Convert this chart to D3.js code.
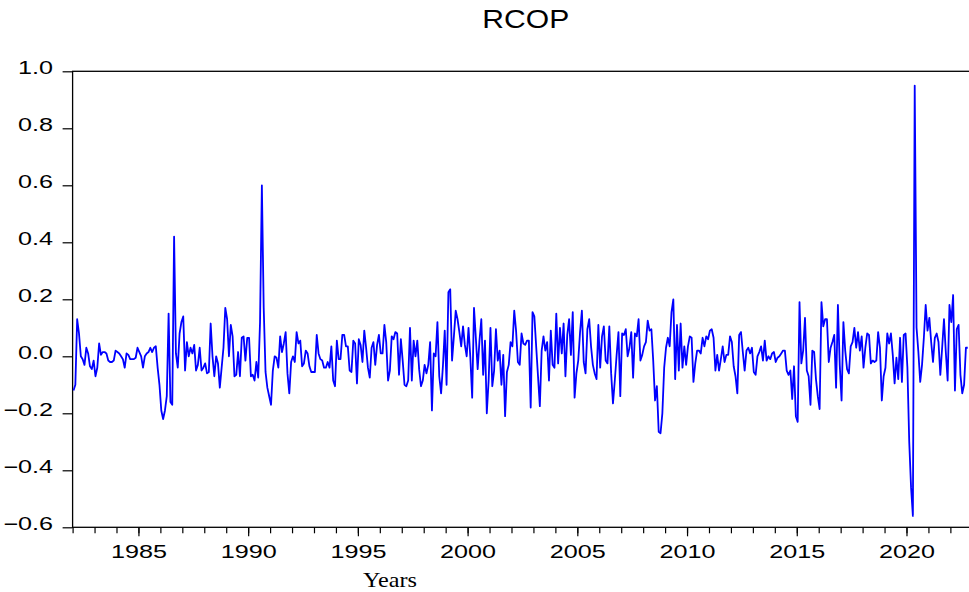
<!DOCTYPE html>
<html>
<head>
<meta charset="utf-8">
<script src="https://cdn.jsdelivr.net/npm/d3@7"></script>
<style>
  body { margin: 0; background: #fff; }
  svg { display: block; }
</style>
</head>
<body>
<svg id="chart"></svg>
<script>
// RCOP, monthly, first observation 1982m1 (one array per decade)
var rcop1980s = [
  -0.12, -0.10, 0.13, 0.08, 0.00, -0.01, -0.03, 0.03, 0.01, -0.035, -0.045, -0.015,
  -0.07, -0.04, 0.045, 0.005, 0.015, 0.015, 0.01, -0.015, -0.02, -0.02, -0.015, 0.02,
  0.015, 0.01, 0.0, -0.01, -0.04, 0.01, 0.005, -0.01, -0.01, -0.01, -0.005, 0.03,
  0.015, 0.0, -0.04, 0.0, 0.01, 0.015, 0.03, 0.015, 0.03, 0.035, -0.04, -0.10,
  -0.19, -0.22, -0.19, -0.14, 0.15, -0.16, -0.17, 0.42, 0.01, -0.04, 0.08, 0.12,
  0.14, -0.05, 0.05, 0.0, 0.03, 0.01, 0.04, -0.05, -0.03, 0.03, -0.05, -0.04,
  -0.025, -0.06, -0.055, 0.115, 0.0, -0.07, 0.0, -0.025, -0.11, -0.04, 0.03, 0.17,
  0.13, 0.0, 0.11, 0.07, -0.07, -0.065, 0.015, -0.07, 0.065, 0.07, -0.015, 0.065
];
var rcop1990s = [
  0.065, -0.07, -0.065, -0.085, -0.02, -0.075, 0.12, 0.60, 0.17, -0.055, -0.11, -0.14,
  -0.17, -0.05, 0.0, -0.005, -0.04, 0.07, 0.015, 0.045, 0.085, -0.06, -0.13, -0.02,
  0.0, -0.02, 0.085, 0.045, 0.055, -0.035, -0.025, 0.02, 0.01, -0.035, -0.055, -0.055,
  -0.055, 0.075, 0.01, -0.01, -0.015, -0.04, -0.04, -0.02, -0.04, 0.035, -0.085, -0.105,
  0.055, -0.01, -0.01, 0.075, 0.075, 0.035, 0.035, -0.05, -0.055, 0.055, 0.045, -0.095,
  0.06, 0.04, -0.02, 0.09, 0.03, -0.04, -0.075, 0.03, 0.05, -0.03, 0.04, 0.075,
  0.01, 0.01, 0.11, 0.05, -0.085, -0.05, 0.07, 0.06, 0.085, 0.08, -0.065, 0.06,
  -0.015, -0.10, -0.105, -0.085, 0.10, -0.085, 0.055, 0.0, 0.055, -0.045, -0.105, -0.085,
  -0.03, -0.06, -0.03, 0.05, -0.19, 0.01, 0.0, 0.12, -0.07, -0.13, -0.035, 0.09,
  -0.10, 0.225, 0.235, -0.015, 0.07, 0.16, 0.13, 0.085, 0.035, 0.105, 0.04, 0.0
];
var rcop2000s = [
  0.10, -0.005, -0.145, 0.17, 0.065, -0.045, 0.055, 0.13, -0.065, 0.055, -0.20, -0.085,
  0.10, -0.105, -0.05, 0.095, -0.015, 0.02, -0.10, 0.005, -0.21, -0.055, -0.03, 0.05,
  0.035, 0.16, 0.09, -0.02, -0.03, 0.08, 0.045, 0.04, 0.055, 0.055, -0.18, 0.155,
  0.14, 0.035, -0.07, -0.175, 0.02, 0.07, 0.02, 0.05, -0.085, 0.09, -0.03, -0.04,
  0.15, -0.025, 0.10, 0.01, 0.115, -0.07, 0.075, 0.13, 0.005, 0.155, -0.145, -0.06,
  -0.015, 0.085, 0.16, -0.02, -0.06, 0.095, 0.13, 0.035, -0.03, -0.06, -0.08, 0.11,
  -0.04, 0.07, 0.105, -0.015, -0.025, 0.105, -0.06, -0.165, -0.085, 0.005, 0.085, -0.14,
  0.08, 0.075, 0.095, 0.0, 0.03, 0.085, -0.075, 0.08, 0.07, 0.13, -0.015, 0.005,
  0.035, 0.05, 0.125, 0.09, 0.095, -0.015, -0.155, -0.105, -0.265, -0.27, -0.20, -0.04,
  0.03, 0.065, 0.035, 0.155, 0.20, -0.08, 0.11, -0.05, 0.115, -0.04, 0.035, -0.03
];
var rcop2010s = [
  0.035, 0.07, 0.065, -0.09, -0.025, 0.02, 0.02, 0.01, 0.065, 0.035, 0.07, 0.06,
  0.09, 0.095, 0.065, -0.05, 0.005, -0.05, -0.01, 0.035, -0.02, 0.005, 0.005, 0.07,
  0.05, -0.035, -0.07, -0.13, 0.075, 0.085, 0.015, -0.05, 0.02, 0.03, 0.01, 0.03,
  -0.055, -0.065, 0.0, 0.015, 0.035, -0.015, 0.055, -0.015, 0.0, -0.01, 0.01, 0.015,
  -0.02, -0.005, 0.0, 0.01, 0.02, 0.02, -0.05, -0.065, -0.05, -0.15, -0.035, -0.21,
  -0.23, 0.19, -0.025, 0.02, 0.135, -0.05, -0.07, -0.17, 0.02, 0.015, -0.08, -0.14,
  -0.185, 0.19, 0.105, 0.13, 0.13, -0.02, 0.03, 0.05, 0.075, -0.11, 0.18, -0.03,
  -0.155, 0.12, 0.02, -0.045, -0.06, 0.035, 0.05, 0.10, 0.03, 0.085, 0.02, 0.07,
  -0.04, 0.03, 0.08, 0.075, -0.025, -0.015, -0.02, -0.015, 0.085, 0.03, -0.155, -0.07,
  -0.04, 0.08, 0.045, 0.08, 0.005, -0.095, -0.005, -0.08, 0.065, -0.09, 0.075, 0.08
];
var rcop2020s = [
  -0.04, -0.30, -0.46, -0.56, 0.95, 0.10, 0.015, -0.09, -0.03, 0.065, 0.18, 0.09,
  0.135, 0.05, -0.02, 0.065, 0.08, 0.05, -0.065, 0.03, 0.13, 0.015, -0.085, 0.18,
  0.12, 0.215, -0.12, 0.095, 0.11, -0.065, -0.13, -0.10, 0.03, 0.03
];

var startYear = 1982;
var yTicks = [-0.6, -0.4, -0.2, 0.0, 0.2, 0.4, 0.6, 0.8, 1.0];
var yearTicks = d3.range(1982, 2024);
var labelYears = [1985, 1990, 1995, 2000, 2005, 2010, 2015, 2020];
var title = "RCOP";
var xTitle = "Years";

var values = rcop1980s.concat(rcop1990s, rcop2000s, rcop2010s, rcop2020s);
// each month sits in the middle of its slot
var data = values.map((v, i) => [startYear + (i + 0.5) / 12, v]);

var width = 969, height = 592;
var margin = {top: 71.3, right: -11, bottom: 64.7, left: 72.6};
var font = "'Liberation Sans', Arial, sans-serif";

var svg = d3.select("#chart")
  .attr("width", width)
  .attr("height", height);

var x = d3.scaleLinear()
  .domain([1982, 2023.35])
  .range([margin.left, width - margin.right]);

var y = d3.scaleLinear()
  .domain([-0.6, 1.0])
  .range([height - margin.bottom, margin.top]);

// minor (yearly) ticks
svg.append("g")
  .attr("transform", "translate(0," + y(-0.6) + ")")
  .call(d3.axisBottom(x).tickValues(yearTicks).tickSize(6).tickFormat(""))
  .call(g => g.select(".domain").remove())
  .call(g => g.selectAll("line").attr("stroke", "#000").attr("stroke-width", 1.2));

// labelled ticks every 5 years
svg.append("g")
  .attr("transform", "translate(0," + y(-0.6) + ")")
  .call(d3.axisBottom(x).tickValues(labelYears).tickSize(9).tickFormat(d3.format("d")))
  .call(g => g.select(".domain").remove())
  .call(g => g.selectAll("line").attr("stroke", "#000").attr("stroke-width", 1.2))
  .call(g => g.selectAll("text")
    .attr("y", null).attr("dy", null)
    .attr("fill", "#000")
    .style("font-family", font)
    .style("font-size", "18px")
    .attr("transform", "translate(0,31) scale(1.4,1)"));

// y axis
svg.append("g")
  .attr("transform", "translate(" + margin.left + ",0)")
  .call(d3.axisLeft(y).tickValues(yTicks).tickSize(10).tickFormat(d3.format(".1f")))
  .call(g => g.select(".domain").remove())
  .call(g => g.selectAll("line").attr("stroke", "#000").attr("stroke-width", 1.2))
  .call(g => g.selectAll("text")
    .attr("x", null).attr("dy", null)
    .attr("text-anchor", "end")
    .attr("fill", "#000")
    .style("font-family", font)
    .style("font-size", "18px")
    .attr("transform", "translate(-19.5,2) scale(1.4,1)"));

// frame
svg.append("rect")
  .attr("x", margin.left)
  .attr("y", margin.top)
  .attr("width", width - margin.right - margin.left)
  .attr("height", height - margin.bottom - margin.top)
  .attr("fill", "none")
  .attr("stroke", "#000")
  .attr("stroke-width", 1.3);

svg.append("path")
  .datum(data)
  .attr("fill", "none")
  .attr("stroke", "#0000ff")
  .attr("stroke-width", 1.8)
  .attr("stroke-linejoin", "round")
  .attr("d", d3.line()
    .x(d => x(d[0]))
    .y(d => y(d[1])));

svg.append("text")
  .attr("transform", "translate(525.8,28.3) scale(1.18,1)")
  .attr("text-anchor", "middle")
  .attr("fill", "#000")
  .style("font-family", font)
  .style("font-size", "25.5px")
  .text(title);

svg.append("text")
  .attr("transform", "translate(390,587.3) scale(1.1,1)")
  .attr("text-anchor", "middle")
  .attr("fill", "#000")
  .style("font-family", "'Liberation Serif', 'Times New Roman', serif")
  .style("font-size", "22px")
  .text(xTitle);
</script>
</body>
</html>
